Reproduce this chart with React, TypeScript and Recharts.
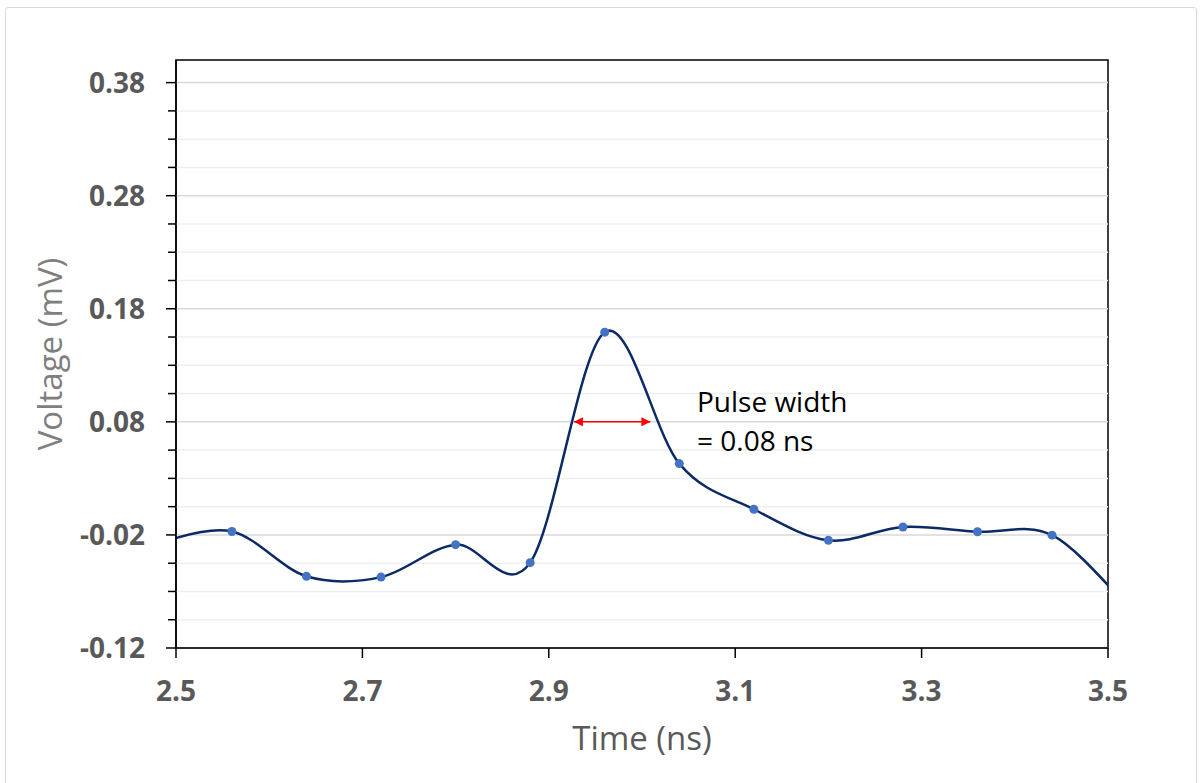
import { LineChart, Line, XAxis, YAxis, ReferenceLine, ReferenceArea, ReferenceDot } from "recharts";

// sample times (ns) and measured voltage (mV); first and last fall just outside the plotted window
const times = [2.48, 2.56, 2.64, 2.72, 2.8, 2.88, 2.96, 3.04, 3.12, 3.2, 3.28, 3.36, 3.44, 3.52];
const voltages = [-0.027, -0.017, -0.0566, -0.0573, -0.0286, -0.0445, 0.1593, 0.0431, 0.0027, -0.0248, -0.013, -0.0172, -0.0202, -0.082];

const xTicks = [2.5, 2.7, 2.9, 3.1, 3.3, 3.5];
const yMajorTicks = [-0.12, -0.02, 0.08, 0.18, 0.28, 0.38];
const yMinorTicks = [
  -0.095, -0.07, -0.045, 0.005, 0.03, 0.055, 0.105, 0.13, 0.155,
  0.205, 0.23, 0.255, 0.305, 0.33, 0.355,
];
const yAllTicks = [...yMajorTicks, ...yMinorTicks].sort((a, b) => a - b);

// pulse width annotation (data units)
const arrowSpan = [2.927, 3.009];
const arrowLevel = 0.08;
const noteAt = { t: 3.059, v: 0.08 };
const noteLines = ["Pulse width", "= 0.08 ns"];

const data = times.map((t, i) => ({ t, v: voltages[i] }));

const FONT = "'Open Sans', 'DejaVu Sans', sans-serif";
const TICK_GRAY = "#595959";

// Excel-style smoothed line (Catmull-Rom through every point)
const excelSmooth = (context: any) => {
  let pts: number[][] = [];
  return {
    areaStart() {},
    areaEnd() {},
    lineStart() {
      pts = [];
    },
    point(x: number, y: number) {
      pts.push([+x, +y]);
    },
    lineEnd() {
      const n = pts.length;
      if (!n) return;
      context.moveTo(pts[0][0], pts[0][1]);
      for (let i = 0; i < n - 1; i++) {
        const p0 = pts[i - 1] || pts[i];
        const p1 = pts[i];
        const p2 = pts[i + 1];
        const p3 = pts[i + 2] || p2;
        context.bezierCurveTo(
          p1[0] + (p2[0] - p0[0]) / 6,
          p1[1] + (p2[1] - p0[1]) / 6,
          p2[0] - (p3[0] - p1[0]) / 6,
          p2[1] - (p3[1] - p1[1]) / 6,
          p2[0],
          p2[1]
        );
      }
    },
  };
};

const isMajor = (v: number) => yMajorTicks.some((m) => Math.abs(m - v) < 1e-6);

const YTick = (props: any) => {
  const { x, y, payload } = props;
  const major = isMajor(payload.value);
  return (
    <g>
      <line x1={x - (major ? 10 : 8)} x2={x} y1={y} y2={y} stroke="#000" strokeWidth={1.5} />
      {major && (
        <text x={x - 31} y={y + 10} textAnchor="end" fill={TICK_GRAY} fontSize={28} fontWeight={700} fontFamily={FONT}>
          {payload.value.toFixed(2)}
        </text>
      )}
    </g>
  );
};

const XTick = (props: any) => {
  const { x, y, payload } = props;
  return (
    <g>
      <line x1={x} x2={x} y1={y} y2={y + 10} stroke="#000" strokeWidth={1.5} />
      <text x={x} y={y + 53} textAnchor="middle" fill={TICK_GRAY} fontSize={28} fontWeight={700} fontFamily={FONT}>
        {payload.value.toFixed(1)}
      </text>
    </g>
  );
};

const Marker = (props: any) => {
  const { cx, cy, payload, index } = props;
  if (payload.t < 2.5 || payload.t > 3.5) return <g key={`m-${index}`} />;
  return <circle key={`m-${index}`} cx={cx} cy={cy} r={4.5} fill="#4472c4" stroke="none" />;
};

export default function App() {
  return (
    <div style={{ position: "absolute", left: 0, top: 0, width: 1203, height: 783, overflow: "hidden", background: "#fff" }}>
      <div
        style={{
          position: "absolute",
          left: 5,
          top: 7,
          width: 1190,
          height: 800,
          border: "1.5px solid #d9d9d9",
          borderRadius: 3,
        }}
      />
      <div style={{ position: "absolute", left: 0, top: 0 }}>
        <LineChart width={1203} height={783} data={data} margin={{ top: 60, right: 95, bottom: 0, left: 0 }}>
          <defs>
            <marker
              id="redHead"
              viewBox="0 0 10 10"
              refX="10"
              refY="5"
              markerUnits="userSpaceOnUse"
              markerWidth="11"
              markerHeight="9"
              orient="auto-start-reverse"
            >
              <path d="M0,0 L10,5 L0,10 z" fill="#ff0000" />
            </marker>
          </defs>
          <XAxis
            dataKey="t"
            type="number"
            domain={[2.5, 3.5]}
            allowDataOverflow
            ticks={xTicks}
            interval={0}
            tickSize={0}
            tickMargin={0}
            tickLine={false}
            axisLine={{ stroke: "#000", strokeWidth: 1.5 }}
            height={135}
            tick={<XTick />}
            label={{
              content: ({ viewBox }: any) => (
                <text
                  x={viewBox.x + viewBox.width / 2}
                  y={viewBox.y + 102}
                  textAnchor="middle"
                  fill={TICK_GRAY}
                  fontSize={33}
                  fontFamily={FONT}
                >
                  Time (ns)
                </text>
              ),
            }}
          />
          <YAxis
            type="number"
            domain={[-0.12, 0.4]}
            allowDataOverflow
            ticks={yAllTicks}
            interval={0}
            tickSize={0}
            tickMargin={0}
            tickLine={false}
            axisLine={{ stroke: "#000", strokeWidth: 1.5 }}
            width={176}
            tick={<YTick />}
            label={{
              content: ({ viewBox }: any) => (
                <text
                  transform={`translate(${viewBox.x + 62}, ${viewBox.y + viewBox.height / 2}) rotate(-90)`}
                  textAnchor="middle"
                  fill="#7f7f7f"
                  fontSize={33}
                  fontFamily={FONT}
                >
                  Voltage (mV)
                </text>
              ),
            }}
          />
          {yMinorTicks.map((v) => (
            <ReferenceLine key={`mn-${v}`} y={v} stroke="#efefef" strokeWidth={1.5} />
          ))}
          {yMajorTicks.map((v) => (
            <ReferenceLine key={`mj-${v}`} y={v} stroke="#d9d9d9" strokeWidth={1.5} />
          ))}
          <ReferenceArea x1={2.5} x2={3.5} y1={-0.12} y2={0.4} fill="none" stroke="#000" strokeWidth={1.5} />
          <Line
            dataKey="v"
            type={excelSmooth as any}
            stroke="#0b2a66"
            strokeWidth={2.5}
            dot={Marker}
            activeDot={false}
            isAnimationActive={false}
          />
          <ReferenceLine
            segment={[
              { x: arrowSpan[0], y: arrowLevel },
              { x: arrowSpan[1], y: arrowLevel },
            ]}
            shape={(p: any) => (
              <line
                x1={p.x1}
                y1={p.y1}
                x2={p.x2}
                y2={p.y2}
                stroke="#ff0000"
                strokeWidth={1.5}
                markerStart="url(#redHead)"
                markerEnd="url(#redHead)"
              />
            )}
          />
          <ReferenceDot
            x={noteAt.t}
            y={noteAt.v}
            r={0}
            fill="none"
            stroke="none"
            label={{
              content: ({ viewBox }: any) => (
                <g fontFamily={FONT} fontSize={28} fill="#000">
                  <text x={viewBox.x} y={viewBox.y - 10}>
                    {noteLines[0]}
                  </text>
                  <text x={viewBox.x} y={viewBox.y + 29}>
                    {noteLines[1]}
                  </text>
                </g>
              ),
            }}
          />
        </LineChart>
      </div>
    </div>
  );
}
